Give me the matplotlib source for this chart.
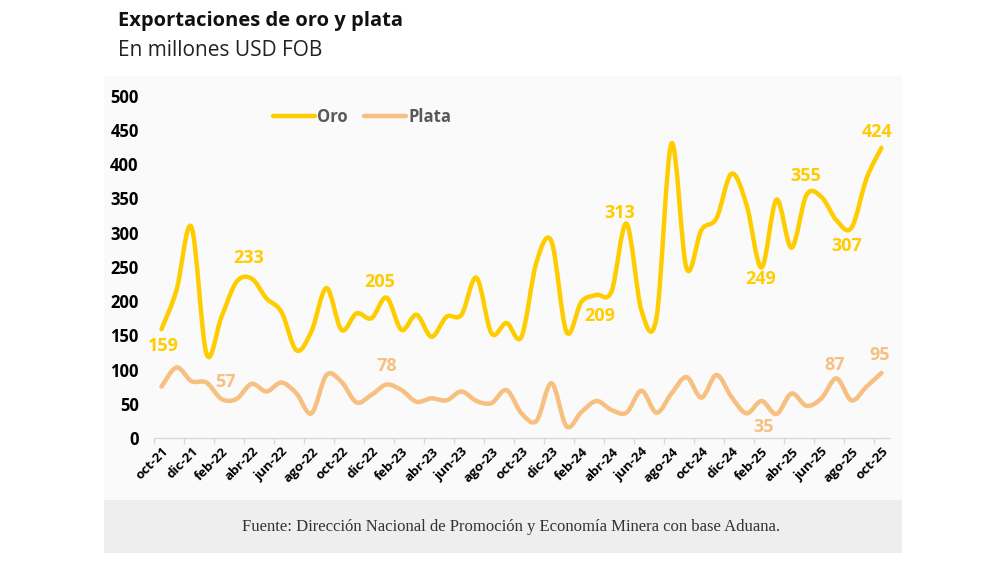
import numpy as np
import matplotlib
matplotlib.use("Agg")
import matplotlib.pyplot as plt
from matplotlib.path import Path
from matplotlib.patches import PathPatch, Rectangle
from matplotlib.lines import Line2D

plt.rcParams['font.family'] = ['Open Sans', 'DejaVu Sans']

# datos mensuales oct-21 .. oct-25 (millones USD FOB)
meses = ['oct-21', 'nov-21', 'dic-21', 'ene-22', 'feb-22', 'mar-22', 'abr-22', 'may-22', 'jun-22',
         'jul-22', 'ago-22', 'sep-22', 'oct-22', 'nov-22', 'dic-22', 'ene-23', 'feb-23', 'mar-23',
         'abr-23', 'may-23', 'jun-23', 'jul-23', 'ago-23', 'sep-23', 'oct-23', 'nov-23', 'dic-23',
         'ene-24', 'feb-24', 'mar-24', 'abr-24', 'may-24', 'jun-24', 'jul-24', 'ago-24', 'sep-24',
         'oct-24', 'nov-24', 'dic-24', 'ene-25', 'feb-25', 'mar-25', 'abr-25', 'may-25', 'jun-25',
         'jul-25', 'ago-25', 'sep-25', 'oct-25']

oro = [159, 216, 308, 123, 177, 228, 233, 204, 184, 128, 156, 219, 158, 182, 175, 205, 158, 180,
       148, 177, 180, 234, 153, 168, 148, 257, 287, 155, 199, 209, 214, 313, 186, 176, 430, 248,
       304, 321, 386, 341, 249, 348, 278, 355, 352, 318, 307, 379, 424]

plata = [75, 103, 83, 81, 57, 57, 79, 68, 81, 65, 36, 92, 82, 52, 63, 78, 70, 53,
         58, 55, 68, 54, 51, 70, 36, 25, 80, 17, 38, 54, 41, 37, 69, 37, 65, 89,
         59, 92, 60, 36, 54, 35, 65, 47, 58, 87, 55, 75, 95]

oro_etiq = [0, 6, 15, 29, 31, 40, 43, 46, 48]
plata_etiq = [4, 15, 41, 45, 48]

# desplazamientos de las etiquetas (puntos)
oro_off = [(1, -12), (-2, 14.5), (-5, 11), (2, -15), (-5, 8), (-0.5, -8), (-0.5, 14), (-3.5, -13), (-3.5, 11)]
plata_off = [(2.5, 12.5), (0, 13.5), (-9.5, -9), (-1, 10), (-1, 13)]

C_ORO = '#FFCC00'
C_PLATA = '#F7BF80'


def curva(xs, ys):
    # linea suavizada tipo Excel (Catmull-Rom -> Bezier)
    p = np.column_stack([xs, ys]).astype(float)
    n = len(p)
    verts = [p[0]]
    codes = [Path.MOVETO]
    for k in range(n - 1):
        p0 = p[max(k - 1, 0)]
        p1 = p[k]
        p2 = p[k + 1]
        p3 = p[min(k + 2, n - 1)]
        verts += [p1 + (p2 - p0) / 6, p2 - (p3 - p1) / 6, p2]
        codes += [Path.CURVE4] * 3
    return Path(verts, codes)


W, H = 990, 561
fig = plt.figure(figsize=(W / 100, H / 100), dpi=100)
fig.patch.set_facecolor('white')

# paneles de fondo
fig.patches.append(Rectangle((104 / W, 1 - 500 / H), (902 - 104) / W, (500 - 76) / H,
                             transform=fig.transFigure, facecolor='#fafafa', edgecolor='none', zorder=-10))
fig.patches.append(Rectangle((104 / W, 1 - 553 / H), (902 - 104) / W, (553 - 500) / H,
                             transform=fig.transFigure, facecolor='#eeeeee', edgecolor='none', zorder=-10))

fig.text(118 / W, 1 - 21 / H, 'Exportaciones de oro y plata', fontsize=14.5, fontweight='bold',
         color='#111111', va='center', ha='left')
fig.text(118 / W, 1 - 50 / H, 'En millones USD FOB', fontsize=15, color='#222222',
         va='center', ha='left')
fig.text(511 / W, 1 - 527 / H, 'Fuente: Dirección Nacional de Promoción y Economía Minera con base Aduana.',
         fontsize=12, family=['Liberation Serif', 'DejaVu Serif'], color='#333333',
         va='center', ha='center')

ax = fig.add_axes([154 / W, 1 - 438 / H, (889 - 154) / W, (438 - 95.7) / H])
ax.set_facecolor('none')
ax.set_zorder(1)

x = np.arange(len(meses))
ax.add_patch(PathPatch(curva(x, oro), fill=False, edgecolor=C_ORO, lw=3.2, capstyle='round', zorder=3))
ax.add_patch(PathPatch(curva(x, plata), fill=False, edgecolor=C_PLATA, lw=3.2, capstyle='round', zorder=3))

for i, (dx, dy) in zip(oro_etiq, oro_off):
    ax.annotate(str(oro[i]), (x[i], oro[i]), xytext=(dx, dy), textcoords='offset points',
                ha='center', va='center', fontsize=13, fontweight='bold', color=C_ORO, zorder=4)
for i, (dx, dy) in zip(plata_etiq, plata_off):
    ax.annotate(str(plata[i]), (x[i], plata[i]), xytext=(dx, dy), textcoords='offset points',
                ha='center', va='center', fontsize=13, fontweight='bold', color=C_PLATA, zorder=4)

ax.set_xlim(-0.5, len(meses) - 0.5)
ax.set_ylim(0, 500)
ax.set_yticks(np.arange(0, 501, 50))
ax.tick_params(axis='y', length=0, pad=11, labelsize=12)
for t in ax.get_yticklabels():
    t.set_fontweight('bold')

ax.set_xticks(x[::2])
ax.set_xticklabels(meses[::2], rotation=45, ha='right', rotation_mode='anchor',
                   fontsize=9.5, fontweight='bold')
ax.set_xticks(x[::2] - 0.5, minor=True)
ax.tick_params(axis='x', which='major', length=0, pad=5)
ax.tick_params(axis='x', which='minor', length=4, color='#d9d9d9', width=1)

for s in ['top', 'right', 'left']:
    ax.spines[s].set_visible(False)
ax.spines['bottom'].set_color('#d9d9d9')
ax.spines['bottom'].set_linewidth(1)

handles = [Line2D([], [], color=C_ORO, lw=3.2, solid_capstyle='round'),
           Line2D([], [], color=C_PLATA, lw=3.2, solid_capstyle='round')]
leg = fig.legend(handles, ['Oro', 'Plata'], loc='center left', bbox_to_anchor=(273 / W, 1 - 116.5 / H),
                 ncol=2, frameon=False, handlelength=2.5, handletextpad=0.15, columnspacing=1.0,
                 borderpad=0, borderaxespad=0, prop={'weight': 'bold', 'size': 12})
for t in leg.get_texts():
    t.set_color('#595959')

fig.savefig('out.png', dpi=100)
